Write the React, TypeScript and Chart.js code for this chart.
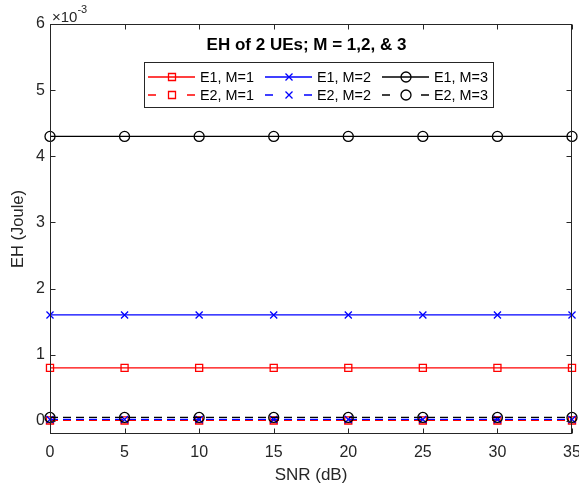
import React, { useEffect, useRef } from 'react';
import { Chart, registerables } from 'chart.js';

Chart.register(...registerables);

// ---- data (EH values in units of 1e-3 Joule) ----
const SNR_DB = [0, 5, 10, 15, 20, 25, 30, 35];
const E1_M1 = [0.8, 0.8, 0.8, 0.8, 0.8, 0.8, 0.8, 0.8];
const E1_M2 = [1.6, 1.6, 1.6, 1.6, 1.6, 1.6, 1.6, 1.6];
const E1_M3 = [4.3, 4.3, 4.3, 4.3, 4.3, 4.3, 4.3, 4.3];
const E2_M1 = [0.005, 0.005, 0.005, 0.005, 0.005, 0.005, 0.005, 0.005];
const E2_M2 = [0.02, 0.02, 0.02, 0.02, 0.02, 0.02, 0.02, 0.02];
const E2_M3 = [0.05, 0.05, 0.05, 0.05, 0.05, 0.05, 0.05, 0.05];
const X_TICKS = [0, 5, 10, 15, 20, 25, 30, 35];
const Y_TICKS = [0, 1, 2, 3, 4, 5, 6];
const Y_MIN = -0.2;
const Y_MAX = 6;
const TITLE = 'EH of 2 UEs; M = 1,2, & 3';
const X_LABEL = 'SNR (dB)';
const Y_LABEL = 'EH (Joule)';
const EXP_BASE = '\u00d710';
const EXP_POWER = '-3';

type Marker = 'square' | 'x' | 'circle';
const SERIES: { label: string; data: number[]; color: string; dashed: boolean; marker: Marker }[] = [
  { label: 'E1, M=1', data: E1_M1, color: '#ff0000', dashed: false, marker: 'square' },
  { label: 'E1, M=2', data: E1_M2, color: '#0000ff', dashed: false, marker: 'x' },
  { label: 'E1, M=3', data: E1_M3, color: '#000000', dashed: false, marker: 'circle' },
  { label: 'E2, M=1', data: E2_M1, color: '#ff0000', dashed: true, marker: 'square' },
  { label: 'E2, M=2', data: E2_M2, color: '#0000ff', dashed: true, marker: 'x' },
  { label: 'E2, M=3', data: E2_M3, color: '#000000', dashed: true, marker: 'circle' },
];

const AXIS_COLOR = '#262626';
const FONT = '"Liberation Sans", Arial, Helvetica, sans-serif';
const DASH = [8, 5];

const pointStyleOf = (m: Marker) => (m === 'square' ? 'rect' : m === 'x' ? 'crossRot' : 'circle');

function drawMarker(ctx: CanvasRenderingContext2D, m: Marker, x: number, y: number) {
  ctx.beginPath();
  if (m === 'square') {
    ctx.rect(x - 3.5, y - 3.5, 7, 7);
  } else if (m === 'x') {
    ctx.moveTo(x - 3.5, y - 3.5);
    ctx.lineTo(x + 3.5, y + 3.5);
    ctx.moveTo(x + 3.5, y - 3.5);
    ctx.lineTo(x - 3.5, y + 3.5);
  } else {
    ctx.arc(x, y, 5, 0, Math.PI * 2);
  }
  ctx.stroke();
}

const decorPlugin = {
  id: 'decor',
  afterDraw(chart: any) {
    const ctx: CanvasRenderingContext2D = chart.ctx;
    const { left, right, top, bottom } = chart.chartArea;
    const xs = chart.scales.x;
    const ys = chart.scales.y;
    ctx.save();
    // frame
    ctx.strokeStyle = AXIS_COLOR;
    ctx.lineWidth = 1;
    ctx.setLineDash([]);
    const L = Math.round(left) + 0.5;
    const R = Math.round(right) - 0.5;
    const T = Math.round(top) + 0.5;
    const B = Math.round(bottom) - 0.5;
    ctx.strokeRect(L, T, R - L, B - T);
    // inward ticks
    ctx.beginPath();
    X_TICKS.forEach((v) => {
      const px = Math.round(xs.getPixelForValue(v)) + 0.5;
      ctx.moveTo(px, B);
      ctx.lineTo(px, B - 5);
      ctx.moveTo(px, T);
      ctx.lineTo(px, T + 5);
    });
    Y_TICKS.forEach((v) => {
      const py = Math.round(ys.getPixelForValue(v)) + 0.5;
      ctx.moveTo(L, py);
      ctx.lineTo(L + 5, py);
      ctx.moveTo(R, py);
      ctx.lineTo(R - 5, py);
    });
    ctx.stroke();

    // exponent label
    ctx.fillStyle = AXIS_COLOR;
    ctx.textBaseline = 'alphabetic';
    ctx.textAlign = 'left';
    ctx.font = `15px ${FONT}`;
    ctx.fillText(EXP_BASE, left + 2, top - 2);
    const w = ctx.measureText(EXP_BASE).width;
    ctx.font = `11px ${FONT}`;
    ctx.fillText(EXP_POWER, left + 2 + w, top - 11);

    // title
    ctx.fillStyle = '#000000';
    ctx.font = `bold 17px ${FONT}`;
    ctx.textAlign = 'center';
    ctx.textBaseline = 'middle';
    ctx.fillText(TITLE, (left + right) / 2 - 4.5, top + 21);

    // legend
    const bx = 144.5, by = 62.5, bw = 349, bh = 45;
    ctx.fillStyle = '#ffffff';
    ctx.fillRect(bx, by, bw, bh);
    ctx.strokeStyle = AXIS_COLOR;
    ctx.lineWidth = 1;
    ctx.strokeRect(bx, by, bw, bh);
    const colX = [148, 265, 382];
    const rowY = [77, 95];
    SERIES.forEach((s, i) => {
      const col = i % 3;
      const row = Math.floor(i / 3);
      const x0 = colX[col];
      const x1 = x0 + 47;
      const y = rowY[row];
      const mx = x0 + 24;
      ctx.strokeStyle = s.color;
      ctx.lineWidth = 1.3;
      ctx.setLineDash([]);
      ctx.beginPath();
      if (s.dashed) {
        ctx.moveTo(x0, y);
        ctx.lineTo(x0 + 8, y);
        ctx.moveTo(x1 - 8, y);
        ctx.lineTo(x1, y);
      } else {
        ctx.moveTo(x0, y);
        ctx.lineTo(x1, y);
      }
      ctx.stroke();
      drawMarker(ctx, s.marker, mx, y);
      ctx.fillStyle = '#000000';
      ctx.font = `14.4px ${FONT}`;
      ctx.textAlign = 'left';
      ctx.textBaseline = 'middle';
      ctx.fillText(s.label, x1 + 5, y + 1);
    });
    ctx.restore();
  },
};

export default function App() {
  const ref = useRef<HTMLCanvasElement | null>(null);
  useEffect(() => {
    if (!ref.current) return;
    const chart = new Chart(ref.current, {
      type: 'line',
      data: {
        datasets: SERIES.map((s, i) => ({
          label: s.label,
          data: SNR_DB.map((x, j) => ({ x, y: s.data[j] })),
          borderColor: s.color,
          backgroundColor: 'rgba(0,0,0,0)',
          borderWidth: 1.3,
          borderDash: s.dashed ? DASH : [],
          pointStyle: pointStyleOf(s.marker) as any,
          pointRadius: 5,
          pointBorderWidth: 1.3,
          pointBorderColor: s.color,
          pointBackgroundColor: 'rgba(0,0,0,0)',
          fill: false,
          tension: 0,
          clip: false as any,
          order: SERIES.length - i,
        })),
      },
      options: {
        animation: false,
        responsive: false,
        devicePixelRatio: 1,
        layout: { padding: { top: 24, right: 7, left: 0, bottom: 0 } },
        plugins: {
          legend: { display: false },
          title: { display: false },
          tooltip: { enabled: false },
        },
        scales: {
          x: {
            type: 'linear',
            min: 0,
            max: 35,
            afterBuildTicks: (s: any) => {
              s.ticks = X_TICKS.map((v) => ({ value: v }));
            },
            afterFit: (s: any) => {
              s.height = 54;
              s.paddingLeft = 0;
              s.paddingRight = 0;
            },
            grid: { display: false, drawTicks: false },
            border: { display: false },
            ticks: {
              color: AXIS_COLOR,
              font: { family: FONT, size: 16 },
              padding: 9,
              maxRotation: 0,
              autoSkip: false,
            },
            title: {
              display: true,
              text: X_LABEL,
              color: AXIS_COLOR,
              font: { family: FONT, size: 17 },
              padding: { top: 0, bottom: 2 },
            },
          },
          y: {
            type: 'linear',
            min: Y_MIN,
            max: Y_MAX,
            afterBuildTicks: (s: any) => {
              s.ticks = Y_TICKS.map((v) => ({ value: v }));
            },
            afterFit: (s: any) => {
              s.width = 50;
              s.paddingTop = 0;
              s.paddingBottom = 0;
            },
            grid: { display: false, drawTicks: false },
            border: { display: false },
            ticks: {
              color: AXIS_COLOR,
              font: { family: FONT, size: 16 },
              padding: 5,
              autoSkip: false,
            },
            title: {
              display: true,
              text: Y_LABEL,
              color: AXIS_COLOR,
              font: { family: FONT, size: 16.5 },
              padding: { top: 9, bottom: 0 },
            },
          },
        },
      },
      plugins: [decorPlugin],
    });
    return () => chart.destroy();
  }, []);
  return (
    <div style={{ position: 'fixed', left: 0, top: 0, width: 579, height: 488, background: '#ffffff' }}>
      <canvas ref={ref} width={579} height={488} style={{ display: 'block' }} />
    </div>
  );
}
